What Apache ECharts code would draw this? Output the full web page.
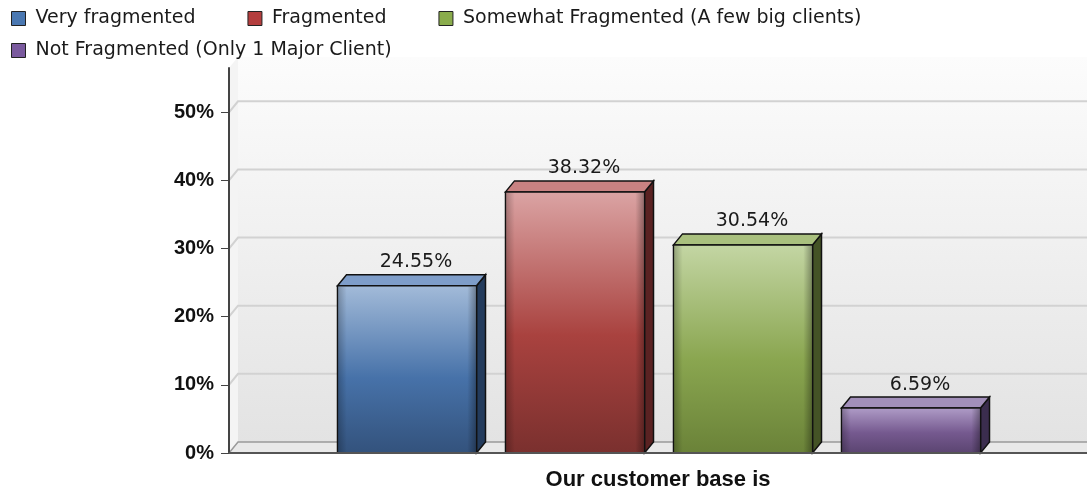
<!DOCTYPE html>
<html>
<head>
<meta charset="utf-8">
<title>Our customer base is</title>
<script src="https://cdn.jsdelivr.net/npm/echarts@6/dist/echarts.min.js"></script>
<style>
  html, body { margin: 0; padding: 0; background: #fff; }
  #chart { width: 1087px; height: 493px; }
</style>
</head>
<body>
<div id="chart"></div>
<script>
  // data
  const categories = ['Our customer base is']
  const seriesNames = [
    'Very fragmented',
    'Fragmented',
    'Somewhat Fragmented (A few big clients)',
    'Not Fragmented (Only 1 Major Client)'
  ]
  const seriesValues = [24.55, 38.32, 30.54, 6.59]
  const yTickValues = [0, 10, 20, 30, 40, 50]
  const yMax = 56.5

  // look of the 3d bars
  const DX = 9
  const DY = -11
  const BAR_RATIO = 139 / 858
  const STEP_RATIO = 168 / 858
  const palette = [
    { legend: '#4a78b2', top: '#7e9dc9', side: '#233b5c', front: ['#a3bbd9', '#4772a9', '#33527c'] },
    { legend: '#b43e3e', top: '#c98282', side: '#5a2222', front: ['#dba4a4', '#a9423f', '#7a302e'] },
    { legend: '#8aac4c', top: '#a9c07e', side: '#445326', front: ['#c4d6a4', '#8aa650', '#6a8238'] },
    { legend: '#7a5a9e', top: '#a28fba', side: '#3b2d4e', front: ['#b09dc8', '#75598f', '#5a4470'] }
  ]

  const chart = echarts.init(document.getElementById('chart'))

  const wallsRenderer = (params, api) => {
    const cs = params.coordSys
    const left = cs.x
    const right = cs.x + cs.width
    const top = cs.y
    const bottom = cs.y + cs.height
    const children = [
      {
        type: 'rect',
        shape: { x: left + DX, y: top + DY, width: right - left - DX, height: bottom - top },
        style: {
          fill: new echarts.graphic.LinearGradient(0, 0, 0, 1, [
            { offset: 0, color: '#fcfcfc' },
            { offset: 1, color: '#e3e3e3' }
          ])
        }
      },
      {
        type: 'polygon',
        shape: { points: [[left, bottom], [left + DX, bottom + DY], [left + DX, top + DY], [left, top]] },
        style: { fill: '#f4f4f4' }
      },
      {
        type: 'polygon',
        shape: { points: [[left, bottom], [left + DX, bottom + DY], [right, bottom + DY], [right, bottom]] },
        style: { fill: '#e9e9e9' }
      },
      {
        type: 'polyline',
        shape: { points: [[left, bottom], [left + DX, bottom + DY], [right, bottom + DY]] },
        style: { stroke: '#9a9a9a', lineWidth: 1.5, fill: null }
      }
    ]
    yTickValues.forEach(t => {
      if (t === 0) return
      const y = api.coord([0, t])[1]
      children.push({
        type: 'polyline',
        shape: { points: [[left, y], [left + DX, y + DY], [right, y + DY]] },
        style: { stroke: '#d2d2d2', lineWidth: 2, fill: null }
      })
    })
    return { type: 'group', children }
  }

  const barRenderer = idx => (params, api) => {
    const value = api.value(1)
    const topPt = api.coord([api.value(0), value])
    const basePt = api.coord([api.value(0), 0])
    const band = api.size([1, 0])[0]
    const w = band * BAR_RATIO
    const step = band * STEP_RATIO
    const groupW = step * 3 + w
    const x0 = topPt[0] - groupW / 2 + idx * step + 1
    const x1 = x0 + w
    const yTop = topPt[1]
    const yBase = basePt[1]
    const p = palette[idx]
    return {
      type: 'group',
      children: [
        {
          type: 'polygon',
          shape: { points: [[x1, yTop], [x1 + DX, yTop + DY], [x1 + DX, yBase + DY], [x1, yBase]] },
          style: { fill: p.side, stroke: '#111', lineWidth: 1.5 }
        },
        {
          type: 'polygon',
          shape: { points: [[x0, yTop], [x1, yTop], [x1 + DX, yTop + DY], [x0 + DX, yTop + DY]] },
          style: { fill: p.top, stroke: '#111', lineWidth: 1.5 }
        },
        {
          type: 'rect',
          shape: { x: x0, y: yTop, width: w, height: yBase - yTop },
          style: {
            fill: new echarts.graphic.LinearGradient(0, 0, 0, 1, [
              { offset: 0, color: p.front[0] },
              { offset: 0.55, color: p.front[1] },
              { offset: 1, color: p.front[2] }
            ]),
            stroke: '#111',
            lineWidth: 1.5
          }
        },
        {
          type: 'rect',
          shape: { x: x0 + 1, y: yTop + 1, width: w - 2, height: yBase - yTop - 2 },
          style: {
            fill: new echarts.graphic.LinearGradient(0, 0, 1, 0, [
              { offset: 0, color: 'rgba(0,0,0,0.22)' },
              { offset: 0.06, color: 'rgba(0,0,0,0)' },
              { offset: 0.94, color: 'rgba(0,0,0,0)' },
              { offset: 1, color: 'rgba(0,0,0,0.3)' }
            ])
          }
        },
        {
          type: 'text',
          style: {
            text: value.toFixed(2) + '%',
            x: x0 + DX + w / 2,
            y: yTop + DY - 3,
            align: 'center',
            verticalAlign: 'bottom',
            font: '19px "DejaVu Sans"',
            fill: '#1a1a1a'
          }
        }
      ]
    }
  }

  const legendBase = {
    left: 11,
    padding: 0,
    itemGap: 52,
    itemWidth: 14,
    itemHeight: 14,
    icon: 'rect',
    selectedMode: false,
    itemStyle: { borderColor: '#222', borderWidth: 1 },
    textStyle: { fontFamily: 'DejaVu Sans', fontSize: 19, color: '#1a1a1a', padding: [0, 0, 0, 5] }
  }

  const option = {
    animation: false,
    backgroundColor: '#fff',
    legend: [
      Object.assign({}, legendBase, { top: 9, data: seriesNames.slice(0, 3) }),
      Object.assign({}, legendBase, { top: 41, data: seriesNames.slice(3) })
    ],
    grid: {
      left: 229,
      right: 0,
      top: 68,
      bottom: 40,
      containLabel: false
    },
    xAxis: {
      type: 'category',
      data: categories,
      z: 3,
      axisLine: { lineStyle: { color: '#555', width: 2 } },
      axisTick: { alignWithLabel: true, length: 7, lineStyle: { color: '#555' } },
      axisLabel: {
        margin: 16,
        color: '#111',
        fontFamily: 'Liberation Sans',
        fontWeight: 'bold',
        fontSize: 22
      },
      splitLine: { show: false }
    },
    yAxis: {
      type: 'value',
      min: 0,
      max: yMax,
      z: 3,
      axisLine: { show: true, lineStyle: { color: '#444', width: 2 } },
      axisTick: { show: true, length: 8, customValues: yTickValues, lineStyle: { color: '#444' } },
      axisLabel: {
        customValues: yTickValues,
        margin: 15,
        color: '#111',
        fontFamily: 'Liberation Sans',
        fontWeight: 'bold',
        fontSize: 20,
        formatter: v => v + '%'
      },
      splitLine: { show: false }
    },
    series: [
      {
        type: 'custom',
        name: 'walls',
        z: 1,
        silent: true,
        renderItem: wallsRenderer,
        encode: { x: 0, y: 1 },
        data: [[0, 0]]
      }
    ].concat(seriesNames.map((name, i) => ({
      type: 'custom',
      name: name,
      z: 2,
      itemStyle: { color: palette[i].legend },
      renderItem: barRenderer(i),
      encode: { x: 0, y: 1 },
      data: [[0, seriesValues[i]]]
    })))
  }

  chart.setOption(option)
  window.addEventListener('resize', () => chart.resize())
</script>
</body>
</html>
